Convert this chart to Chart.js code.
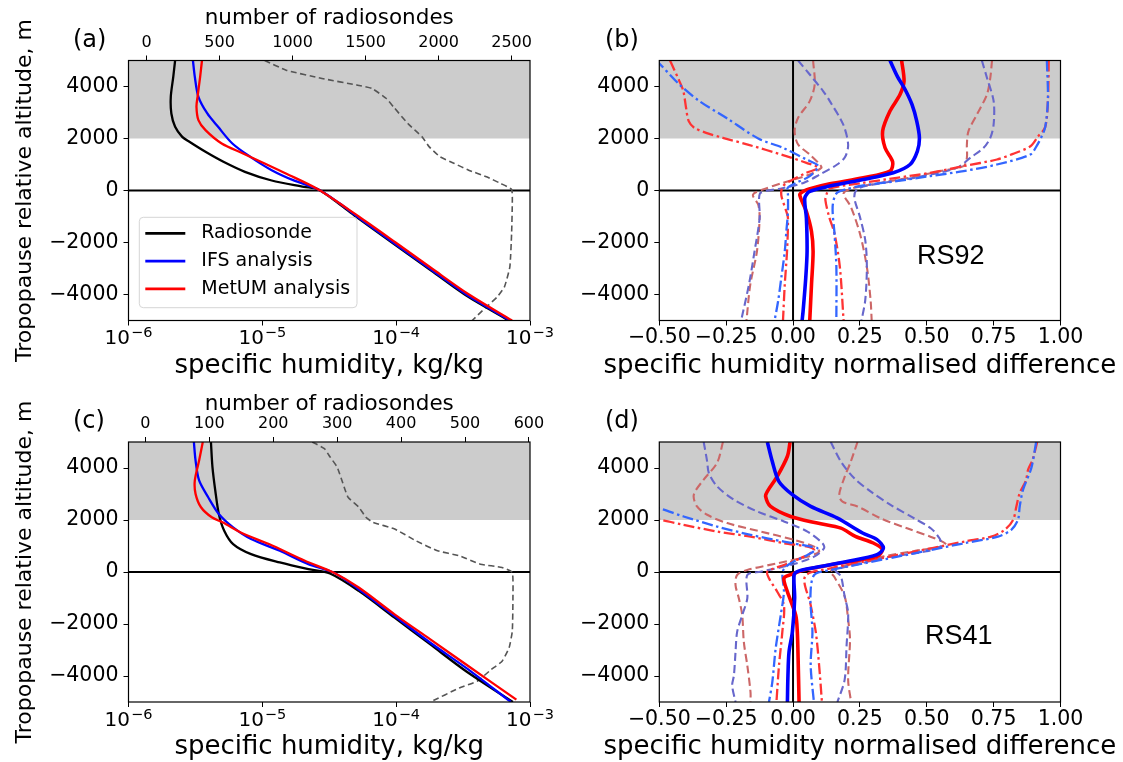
<!DOCTYPE html>
<html><head><meta charset="utf-8">
<script src="https://cdn.jsdelivr.net/npm/chart.js@4.4.1/dist/chart.umd.min.js"></script>
<style>
html,body{margin:0;padding:0;background:#fff;}
#wrap{position:relative;width:1123px;height:762px;overflow:hidden;background:#fff;}
canvas{position:absolute;}
</style></head><body>
<div id="wrap">
<canvas id="ca" width="561" height="381" style="left:0px;top:0px"></canvas>
<canvas id="cb" width="562" height="381" style="left:561px;top:0px"></canvas>
<canvas id="cc" width="561" height="381" style="left:0px;top:381px"></canvas>
<canvas id="cd" width="562" height="381" style="left:561px;top:381px"></canvas>
</div>
<script>
// ---------- axis ticks / labels ----------
const yTicks = [-4000, -2000, 0, 2000, 4000];
const logTicks = [1e-6, 1e-5, 1e-4, 1e-3];
const logTickBase = '10';
const logTickExponents = ['\u22126', '\u22125', '\u22124', '\u22123'];
const diffTicks = [-0.5, -0.25, 0, 0.25, 0.5, 0.75, 1.0];
const diffTickLabels = ['\u22120.50', '\u22120.25', '0.00', '0.25', '0.50', '0.75', '1.00'];
const topTicksA = [0, 500, 1000, 1500, 2000, 2500];
const topTicksC = [0, 100, 200, 300, 400, 500, 600];
const shadedBand = [2000, 5000];
const legendLabels = ['Radiosonde', 'IFS analysis', 'MetUM analysis'];

// ---------- panel (a): specific humidity [q, altitude] ----------
const aRadiosonde = [[2.23e-6,5000],[2.16e-6,4372],[2.07e-6,3603],[2.09e-6,2962],[2.23e-6,2449],[2.52e-6,2064],[2.85e-6,1872],[3.76e-6,1487],[5.12e-6,1103],[7.41e-6,718],[1.175e-5,385],[2.05e-5,141],[2.62e-5,38],[3.72e-5,-500],[5.0e-5,-1000],[9.3e-5,-2000],[1.74e-4,-3000],[3.25e-4,-4000],[6.95e-4,-5000]];
const aIFS = [[3.03e-6,5000],[3.13e-6,4372],[3.33e-6,3603],[3.88e-6,2962],[4.67e-6,2449],[5.97e-6,1808],[8.13e-6,1295],[1.175e-5,782],[1.70e-5,397],[2.62e-5,38],[3.79e-5,-500],[5.1e-5,-1000],[9.5e-5,-2000],[1.78e-4,-3000],[3.35e-4,-4000],[7.1e-4,-5000]];
const aMetUM = [[3.54e-6,5000],[3.43e-6,4372],[3.28e-6,3603],[3.22e-6,3218],[3.33e-6,2705],[3.76e-6,2321],[4.97e-6,1808],[7.18e-6,1423],[1.04e-5,1038],[1.50e-5,654],[2.62e-5,38],[5.25e-5,-1000],[9.9e-5,-2000],[1.85e-4,-3000],[3.5e-4,-4000],[7.35e-4,-5000]];
const aCount = [[809,5000],[956,4628],[1201,4308],[1446,4051],[1544,3923],[1642,3538],[1691,3218],[1789,2577],[1887,2064],[1936,1679],[2010,1295],[2108,1038],[2206,782],[2328,526],[2426,269],[2500,38],[2505,-372],[2500,-1654],[2488,-2936],[2451,-3705],[2402,-4090],[2328,-4474],[2230,-5000]];
const aCountRange = [-124, 2626];

// ---------- panel (c) ----------
const cRadiosonde = [[4.13e-6,5000],[4.24e-6,4035],[4.45e-6,3134],[4.73e-6,2233],[5.19e-6,1589],[6.05e-6,1075],[8.24e-6,689],[1.35e-5,367],[2.21e-5,109],[3.20e-5,-58],[5.25e-5,-727],[9.73e-5,-1757],[1.80e-4,-2786],[3.33e-4,-3816],[7.45e-4,-5000]];
const cIFS = [[3.08e-6,5000],[3.17e-6,4292],[3.37e-6,3520],[3.94e-6,2876],[4.73e-6,2233],[6.05e-6,1718],[8.24e-6,1268],[1.35e-5,817],[2.21e-5,302],[3.40e-5,-20],[5.25e-5,-663],[9.73e-5,-1692],[1.80e-4,-2722],[3.33e-4,-3687],[7.21e-4,-5000]];
const cMetUM = [[3.59e-6,5000],[3.37e-6,4292],[3.13e-6,3520],[3.17e-6,3005],[3.48e-6,2490],[4.19e-6,2104],[5.04e-6,1911],[7.29e-6,1461],[1.12e-5,1075],[2.08e-5,431],[3.40e-5,-20],[5.25e-5,-598],[9.73e-5,-1628],[1.80e-4,-2593],[3.33e-4,-3559],[7.91e-4,-4910]];
const cCount = [[261,5000],[280,4743],[289,4421],[300,4035],[311,3263],[317,2876],[334,2490],[345,2104],[356,1911],[390,1654],[423,1203],[457,817],[491,624],[524,302],[558,174],[574,-19],[575,-985],[574,-2272],[569,-2915],[558,-3430],[541,-3752],[519,-4202],[491,-4459],[446,-5000]];
const cCountRange = [-26.5, 601.7];

// ---------- panel (b): RS92 normalised difference [value, altitude] ----------
const bIfsMean = [[0.3625,5000],[0.391,4372],[0.419,3885],[0.445,3300],[0.4625,2668],[0.4725,2027],[0.465,1515],[0.4375,1000],[0.375,681],[0.2625,423],[0.1375,169],[0.0625,-38],[0.044,-292],[0.05,-1062],[0.0525,-2346],[0.0475,-3369],[0.0375,-4654],[0.034,-5000]];
const bMetMean = [[0.406,5000],[0.415,4208],[0.4,3692],[0.3625,3054],[0.335,2285],[0.344,1642],[0.3725,1100],[0.3625,746],[0.2625,488],[0.1375,258],[0.06,60],[0.0375,-38],[0.025,-165],[0.05,-808],[0.069,-1577],[0.075,-2346],[0.069,-3627],[0.0625,-5000]];
const bIfsDashDotLo = [[-0.515,5000],[-0.5025,4912],[-0.425,4077],[-0.35,3438],[-0.25,2796],[-0.13,2000],[-0.0375,1642],[0.05,1192],[0.094,938],[0.0625,554],[0.0125,296],[-0.02,104],[-0.019,-165],[-0.019,-808],[-0.025,-1577],[-0.031,-2346],[-0.044,-3369],[-0.056,-4269],[-0.069,-5000]];
const bMetDashDotLo = [[-0.46,5000],[-0.456,4912],[-0.425,4208],[-0.41,3823],[-0.4,3181],[-0.39,2668],[-0.369,2411],[-0.325,2219],[-0.2625,2027],[-0.1625,1746],[-0.0375,1362],[0.05,1065],[0.094,873],[0.05,681],[0,423],[-0.0375,169],[-0.044,-165],[-0.025,-808],[-0.019,-1062],[-0.0225,-2346],[-0.031,-3627],[-0.0375,-5000]];
const bIfsDashDotHi = [[0.949,5000],[0.953,3474],[0.943,2449],[0.929,2064],[0.91,1700],[0.8875,1385],[0.7625,1000],[0.6375,746],[0.5125,554],[0.3875,362],[0.2625,192],[0.2,50],[0.162,-115],[0.148,-628],[0.155,-1654],[0.162,-2936],[0.162,-5000]];
const bMetDashDotHi = [[0.956,5000],[0.953,3474],[0.943,2449],[0.915,2064],[0.8875,1700],[0.82,1400],[0.7625,1192],[0.6375,938],[0.5125,681],[0.3875,488],[0.2625,296],[0.1375,77],[0.125,-150],[0.121,-372],[0.135,-1013],[0.155,-1654],[0.175,-2936],[0.189,-5000]];
const bIfsDashLo = [[0.019,5000],[0.0625,4462],[0.1125,3823],[0.1375,3438],[0.1875,2540],[0.206,1769],[0.195,1300],[0.165,1000],[0.1,615],[0.041,300],[-0.04,90],[-0.12,-80],[-0.127,-300],[-0.125,-1062],[-0.144,-2346],[-0.165,-3627],[-0.194,-5000]];
const bMetDashLo = [[0.075,5000],[0.081,4077],[0.0625,3438],[0.019,2796],[0.006,2285],[0.019,1769],[0.0625,1385],[0.1,1000],[0.106,873],[0.0625,615],[-0.0375,296],[-0.1125,38],[-0.15,-165],[-0.13,-550],[-0.125,-1062],[-0.135,-2346],[-0.16,-3627],[-0.174,-5000]];
const bIfsDashHi = [[0.706,5000],[0.725,4335],[0.75,3438],[0.75,2540],[0.7375,2027],[0.7125,1642],[0.6625,1258],[0.6125,873],[0.472,526],[0.337,295],[0.243,77],[0.229,-244],[0.25,-1013],[0.27,-1910],[0.276,-2936],[0.27,-4218],[0.256,-5000]];
const bMetDashHi = [[0.744,5000],[0.7375,4335],[0.725,3692],[0.6875,2923],[0.656,2285],[0.65,1769],[0.65,1258],[0.6375,938],[0.55,746],[0.45,520],[0.33,300],[0.22,80],[0.189,-115],[0.216,-628],[0.25,-1654],[0.276,-2936],[0.29,-4218],[0.294,-5000]];

// ---------- panel (d): RS41 ----------
const dIfsMean = [[-0.096,5000],[-0.0775,4247],[-0.0525,3475],[-0.0025,2973],[0.066,2521],[0.166,2072],[0.26,1500],[0.314,1244],[0.338,923],[0.314,667],[0.206,410],[0.072,154],[0.018,26],[0.004,-116],[0.006,-1016],[-0.0025,-2305],[-0.015,-3077],[-0.019,-3977],[-0.021,-5000]];
const dMetMean = [[-0.011,5000],[-0.021,4452],[-0.059,3680],[-0.096,3101],[-0.1025,2907],[-0.084,2521],[-0.009,2135],[0.091,1880],[0.179,1687],[0.233,1372],[0.3,1115],[0.334,859],[0.314,603],[0.179,346],[0.045,90],[-0.009,-103],[-0.034,-244],[-0.021,-761],[0.01,-1660],[0.016,-2305],[0.019,-3333],[0.0225,-5000]];
const dIfsDashDotLo = [[-0.56,2600],[-0.5025,2459],[-0.409,2135],[-0.284,1749],[-0.159,1429],[-0.034,1170],[0.066,977],[0.091,913],[0.054,656],[-0.009,335],[-0.034,120],[-0.04,-116],[-0.034,-761],[-0.046,-1660],[-0.065,-2948],[-0.0775,-4236],[-0.09,-5000]];
const dMetDashDotLo = [[-0.56,2100],[-0.496,2008],[-0.409,1815],[-0.284,1556],[-0.159,1363],[-0.034,1108],[0.054,977],[0.079,849],[0.041,591],[-0.034,270],[-0.096,12],[-0.09,-244],[-0.059,-761],[-0.034,-1274],[-0.04,-2305],[-0.0525,-3591],[-0.062,-5000]];
const dIfsDashDotHi = [[0.909,5000],[0.891,4004],[0.86,3166],[0.8475,2521],[0.841,2008],[0.816,1622],[0.766,1363],[0.641,1108],[0.516,849],[0.391,591],[0.266,335],[0.141,77],[0.079,-116],[0.065,-936],[0.0725,-2305],[0.066,-3591],[0.078,-5000]];
const dMetDashDotHi = [[0.913,5000],[0.895,4300],[0.879,3940],[0.87,3500],[0.8475,3037],[0.835,2521],[0.823,2008],[0.791,1622],[0.741,1363],[0.641,1172],[0.516,913],[0.391,655],[0.266,399],[0.141,142],[0.045,-167],[0.066,-1274],[0.085,-2305],[0.0975,-3591],[0.108,-5000]];
const dIfsDashLo = [[-0.334,5000],[-0.321,4247],[-0.315,3811],[-0.284,3295],[-0.221,2780],[-0.134,2329],[-0.034,1943],[0.054,1556],[0.11,1108],[0.116,913],[0.079,591],[-0.009,270],[-0.121,12],[-0.171,-116],[-0.171,-1016],[-0.19,-1660],[-0.209,-2305],[-0.215,-3077],[-0.221,-3977],[-0.2275,-4364],[-0.215,-5000]];
const dMetDashLo = [[-0.262,5000],[-0.284,4197],[-0.334,3552],[-0.371,2973],[-0.359,2521],[-0.321,2201],[-0.246,1880],[-0.121,1556],[0.004,1236],[0.079,977],[0.0975,784],[0.054,591],[-0.059,335],[-0.171,77],[-0.209,-116],[-0.215,-502],[-0.2025,-1016],[-0.19,-1660],[-0.184,-2691],[-0.171,-3591],[-0.159,-4622],[-0.159,-5000]];
const dIfsDashHi = [[0.141,5000],[0.179,4247],[0.229,3604],[0.291,3089],[0.366,2574],[0.454,2058],[0.516,1672],[0.548,1286],[0.554,1000],[0.5,800],[0.35,560],[0.25,320],[0.16,60],[0.179,-167],[0.193,-936],[0.206,-1577],[0.2,-2859],[0.193,-4141],[0.166,-5000]];
const dMetDashHi = [[0.241,5000],[0.216,4247],[0.191,3604],[0.1725,2960],[0.185,2703],[0.241,2521],[0.329,2058],[0.429,1672],[0.516,1350],[0.56,1158],[0.573,1030],[0.45,800],[0.34,603],[0.206,282],[0.139,26],[0.153,-167],[0.193,-936],[0.206,-1833],[0.213,-2603],[0.206,-4141],[0.217,-5000]];

// ---------- styling ----------
Chart.defaults.font.family = "'DejaVu Sans', sans-serif";
Chart.defaults.color = '#000';
const FONT = "'DejaVu Sans', sans-serif";
const TICK = 20.5;
const C = {
  black:'#000000', blue:'#0000ff', red:'#ff0000', count:'#555555',
  ddBlue:'#3366ff', ddRed:'#ff3333', dsBlue:'#6767cc', dsRed:'#cc6767', band:'#cccccc'
};
const DASHDOT = [11, 3.5, 2.5, 3.5];
const DASHED = [8, 4];

function ds(label, data, color, width, dash, xAxisID) {
  return { label, data, borderColor: color, borderWidth: width, borderDash: dash || [],
    pointRadius: 0, pointHoverRadius: 0, fill: false, tension: 0.3,
    xAxisID: xAxisID || 'x', yAxisID: 'y', borderCapStyle: 'butt', borderJoinStyle: 'round' };
}

function yFmt(v) { return v < 0 ? '\u2212' + (-v) : String(v); }

function makeDecor(cfg) {
  return {
    id: 'decor',
    beforeDatasetsDraw(chart) {
      const { ctx, chartArea: a, scales } = chart;
      const y = scales.y, x = scales.x;
      ctx.save();
      ctx.fillStyle = C.band;
      const y1 = y.getPixelForValue(shadedBand[1]), y2 = y.getPixelForValue(shadedBand[0]);
      ctx.fillRect(a.left, y1, a.right - a.left, y2 - y1);
      ctx.strokeStyle = '#000'; ctx.lineWidth = 2;
      const y0 = y.getPixelForValue(0);
      ctx.beginPath(); ctx.moveTo(a.left, y0); ctx.lineTo(a.right, y0); ctx.stroke();
      if (cfg.zeroV) {
        const x0 = x.getPixelForValue(0);
        ctx.beginPath(); ctx.moveTo(x0, a.top); ctx.lineTo(x0, a.bottom); ctx.stroke();
      }
      ctx.restore();
    },
    afterDatasetsDraw(chart) {
      const { ctx, chartArea: a, scales } = chart;
      ctx.save();
      if (cfg.legend) {
        const L = cfg.legend;
        ctx.fillStyle = 'rgba(255,255,255,0.8)';
        ctx.strokeStyle = '#d5d5d5'; ctx.lineWidth = 1;
        const r = 4, lx = L.x, ly = L.y, lw = L.w, lh = L.h;
        ctx.beginPath();
        ctx.moveTo(lx + r, ly); ctx.lineTo(lx + lw - r, ly); ctx.arcTo(lx + lw, ly, lx + lw, ly + r, r);
        ctx.lineTo(lx + lw, ly + lh - r); ctx.arcTo(lx + lw, ly + lh, lx + lw - r, ly + lh, r);
        ctx.lineTo(lx + r, ly + lh); ctx.arcTo(lx, ly + lh, lx, ly + lh - r, r);
        ctx.lineTo(lx, ly + r); ctx.arcTo(lx, ly, lx + r, ly, r); ctx.closePath();
        ctx.fill(); ctx.stroke();
        ctx.font = '19px ' + FONT; ctx.textBaseline = 'middle'; ctx.textAlign = 'left';
        legendLabels.forEach((t, i) => {
          const yy = ly + L.first + i * L.step;
          ctx.strokeStyle = L.colors[i]; ctx.lineWidth = 2.7;
          ctx.beginPath(); ctx.moveTo(lx + 6, yy); ctx.lineTo(lx + 46, yy); ctx.stroke();
          ctx.fillStyle = '#000'; ctx.fillText(t, lx + 62, yy);
        });
      }
      if (cfg.note) {
        ctx.font = '27px "Liberation Sans", Arial, sans-serif';
        ctx.fillStyle = '#000'; ctx.textAlign = 'center'; ctx.textBaseline = 'middle';
        ctx.fillText(cfg.note.text, scales.x.getPixelForValue(cfg.note.x), scales.y.getPixelForValue(cfg.note.y));
      }
      ctx.strokeStyle = '#000'; ctx.lineWidth = 1.2;
      ctx.strokeRect(a.left, a.top, a.right - a.left, a.bottom - a.top);
      ctx.restore();
    },
    afterDraw(chart) {
      const { ctx, chartArea: a, scales } = chart;
      ctx.save();
      ctx.fillStyle = '#000';
      const cx = (a.left + a.right) / 2;
      // log-axis tick labels with superscript exponents, placed by the library's scale
      if (cfg.logLabels) {
        ctx.textAlign = 'left'; ctx.textBaseline = 'alphabetic';
        logTicks.forEach((v, i) => {
          const px = scales.x.getPixelForValue(v);
          ctx.font = '20px ' + FONT;
          const w1 = ctx.measureText(logTickBase).width;
          ctx.font = '14.5px ' + FONT;
          const w2 = ctx.measureText(logTickExponents[i]).width;
          const x0 = px - (w1 + w2 + 1) / 2;
          const base = a.bottom + 23.5;
          ctx.font = '20px ' + FONT;
          ctx.fillText(logTickBase, x0, base);
          ctx.font = '14.5px ' + FONT;
          ctx.fillText(logTickExponents[i], x0 + w1 + 1, base - 7);
        });
      }
      ctx.font = '26px ' + FONT; ctx.textAlign = 'center'; ctx.textBaseline = 'alphabetic';
      ctx.fillText(cfg.xTitle, cx, a.bottom + 52);
      if (cfg.topTitle) {
        ctx.font = '21.5px ' + FONT;
        ctx.fillText(cfg.topTitle, cx, a.top - cfg.topOff);
      }
      if (cfg.yTitle) {
        ctx.save();
        ctx.translate(30.5, (a.top + a.bottom) / 2);
        ctx.rotate(-Math.PI / 2);
        ctx.font = '22px ' + FONT; ctx.textAlign = 'center'; ctx.textBaseline = 'alphabetic';
        ctx.fillText(cfg.yTitle, 0, 0);
        ctx.restore();
      }
      ctx.font = '24px ' + FONT; ctx.textAlign = 'left'; ctx.textBaseline = 'middle';
      ctx.fillText(cfg.panel, cfg.panelX, a.top - cfg.panelOff);
      ctx.restore();
    }
  };
}

function yScale(width) {
  return {
    type: 'linear', position: 'left', min: -5000, max: 5000,
    afterBuildTicks: s => { s.ticks = yTicks.map(v => ({ value: v })); },
    afterFit: s => { s.width = width; },
    ticks: { font: { size: TICK }, padding: 5, autoSkip: false, callback: v => yFmt(v) },
    grid: { drawOnChartArea: false, drawTicks: true, tickLength: 5, color: '#000', lineWidth: 1 },
    border: { display: false }
  };
}

function profileChart(id, series, counts, countRange, topTicks, cfg, bottomH, topH) {
  const datasets = [
    ds(legendLabels[2], series[2], C.red, 2.3),
    ds(legendLabels[1], series[1], C.blue, 2.3),
    ds(legendLabels[0], series[0], C.black, 2.3),
    Object.assign(ds('number of radiosondes', counts, C.count, 1.6, [6, 3.5], 'xTop'), { tension: 0.15 })
  ];
  cfg.logLabels = true;
  return new Chart(document.getElementById(id), {
    type: 'line',
    data: { datasets },
    plugins: [makeDecor(cfg)],
    options: {
      responsive: false, animation: false, events: [],
      layout: { autoPadding: false, padding: { left: 0, right: 31, top: 0, bottom: 0 } },
      plugins: { legend: { display: false }, tooltip: { enabled: false } },
      scales: {
        x: {
          type: 'logarithmic', position: 'bottom', min: 1e-6, max: 1e-3,
          afterBuildTicks: s => { s.ticks = logTicks.map(v => ({ value: v })); },
          afterFit: s => { s.height = bottomH; },
          ticks: { font: { size: TICK }, padding: 0, autoSkip: false, maxRotation: 0,
            callback: () => '' },
          grid: { drawOnChartArea: false, drawTicks: true, tickLength: 5, color: '#000' },
          border: { display: false }
        },
        xTop: {
          type: 'linear', position: 'top', min: countRange[0], max: countRange[1],
          afterBuildTicks: s => { s.ticks = topTicks.map(v => ({ value: v })); },
          afterFit: s => { s.height = topH; },
          ticks: { font: { size: 16 }, padding: 3.5, autoSkip: false, maxRotation: 0,
            callback: v => String(v) },
          grid: { drawOnChartArea: false, drawTicks: true, tickLength: 5, color: '#000' },
          border: { display: false }
        },
        y: yScale(128.5)
      }
    }
  });
}

function diffChart(id, s, cfg, bottomH, topPad) {
  const datasets = [
    ds('IFS mean', s.ifsMean, C.blue, 3.6),
    ds('MetUM mean', s.metMean, C.red, 3.6),
    ds('IFS dash-dot low', s.ifsDDLo, C.ddBlue, 2.3, DASHDOT),
    ds('MetUM dash-dot low', s.metDDLo, C.ddRed, 2.3, DASHDOT),
    ds('IFS dash-dot high', s.ifsDDHi, C.ddBlue, 2.3, DASHDOT),
    ds('MetUM dash-dot high', s.metDDHi, C.ddRed, 2.3, DASHDOT),
    ds('IFS dashed low', s.ifsDLo, C.dsBlue, 2.1, DASHED),
    ds('MetUM dashed low', s.metDLo, C.dsRed, 2.1, DASHED),
    ds('IFS dashed high', s.ifsDHi, C.dsBlue, 2.1, DASHED),
    ds('MetUM dashed high', s.metDHi, C.dsRed, 2.1, DASHED)
  ];
  return new Chart(document.getElementById(id), {
    type: 'line',
    data: { datasets },
    plugins: [makeDecor(cfg)],
    options: {
      responsive: false, animation: false, events: [],
      layout: { autoPadding: false, padding: { left: 0, right: 62.5, top: topPad, bottom: 0 } },
      plugins: { legend: { display: false }, tooltip: { enabled: false } },
      scales: {
        x: {
          type: 'linear', position: 'bottom', min: -0.5, max: 1.0,
          afterBuildTicks: sc => { sc.ticks = diffTicks.map(v => ({ value: v })); },
          afterFit: sc => { sc.height = bottomH; },
          ticks: { font: { size: TICK }, padding: 0, autoSkip: false, maxRotation: 0,
            callback: (v, i) => diffTickLabels[i] },
          grid: { drawOnChartArea: false, drawTicks: true, tickLength: 5, color: '#000' },
          border: { display: false }
        },
        y: yScale(98.3)
      }
    }
  });
}

const yTitle = 'Tropopause relative altitude, m';
const qTitle = 'specific humidity, kg/kg';
const dTitle = 'specific humidity normalised difference';

profileChart('ca', [aRadiosonde, aIFS, aMetUM], aCount, aCountRange, topTicksA,
  { xTitle: qTitle, yTitle, topTitle: 'number of radiosondes', topOff: 36.5, panel: '(a)', panelX: 73, panelOff: 19.5,
    legend: { x: 139.3, y: 217.3, w: 217.7, h: 90.4, first: 16, step: 27.8, colors: [C.black, C.blue, C.red] } },
  60.5, 60.5);

diffChart('cb', { ifsMean: bIfsMean, metMean: bMetMean, ifsDDLo: bIfsDashDotLo, metDDLo: bMetDashDotLo,
  ifsDDHi: bIfsDashDotHi, metDDHi: bMetDashDotHi, ifsDLo: bIfsDashLo, metDLo: bMetDashLo, ifsDHi: bIfsDashHi, metDHi: bMetDashHi },
  { xTitle: dTitle, zeroV: true, panel: '(b)', panelX: 44, panelOff: 19.5, note: { text: 'RS92', x: 0.59, y: -2550 } },
  60.5, 60.5);

profileChart('cc', [cRadiosonde, cIFS, cMetUM], cCount, cCountRange, topTicksC,
  { xTitle: qTitle, yTitle, topTitle: 'number of radiosondes', topOff: 32, panel: '(c)', panelX: 73, panelOff: 20 },
  60, 61);

diffChart('cd', { ifsMean: dIfsMean, metMean: dMetMean, ifsDDLo: dIfsDashDotLo, metDDLo: dMetDashDotLo,
  ifsDDHi: dIfsDashDotHi, metDDHi: dMetDashDotHi, ifsDLo: dIfsDashLo, metDLo: dMetDashLo, ifsDHi: dIfsDashHi, metDHi: dMetDashHi },
  { xTitle: dTitle, zeroV: true, panel: '(d)', panelX: 44, panelOff: 20.5, note: { text: 'RS41', x: 0.62, y: -2500 } },
  60, 61);
</script>
</body></html>
